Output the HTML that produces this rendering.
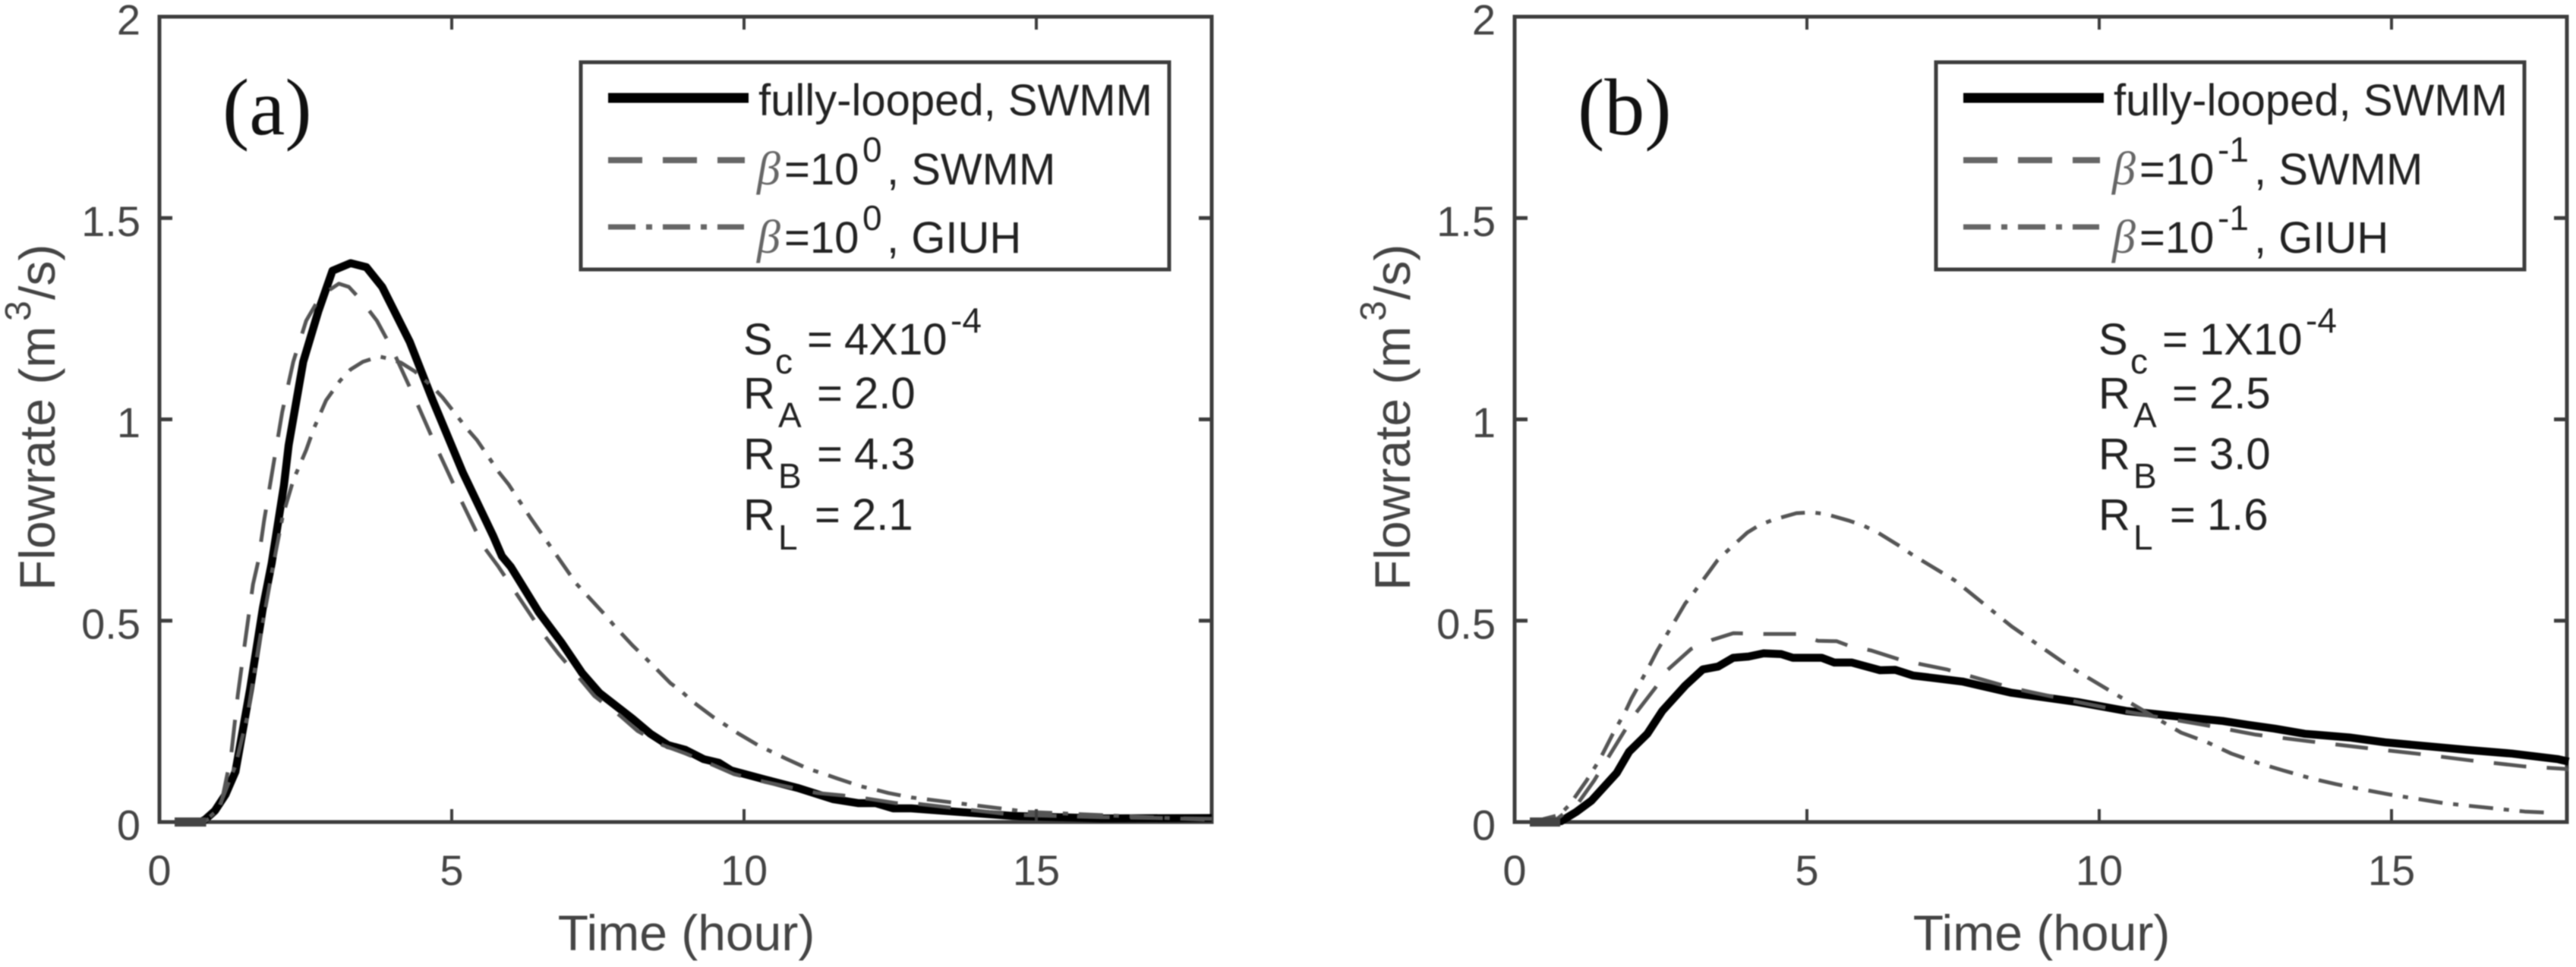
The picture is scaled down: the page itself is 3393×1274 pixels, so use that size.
<!DOCTYPE html>
<html lang="en">
<head>
<meta charset="utf-8">
<title>Flowrate hydrographs</title>
<style>
html,body{margin:0;padding:0;background:#fff;width:3393px;height:1274px;overflow:hidden}
svg{display:block;filter:blur(0.7px)}
text{font-family:"Liberation Sans",Arial,sans-serif}
.tick{font-size:56px;fill:#444}
.title{font-size:66px;fill:#444}
.leg{font-size:58px;fill:#222}
.sup{font-size:46px;fill:#222}
.ann{font-size:58px;fill:#222}
.sub{font-size:46px;fill:#222}
.beta{font-family:"Liberation Serif",serif;font-style:italic;font-size:62px;fill:#666}
.panel-label{font-family:"Liberation Serif",serif;font-size:106px;fill:#111}
</style>
</head>
<body>
<svg id="chart" xmlns="http://www.w3.org/2000/svg" width="3393" height="1274" viewBox="0 0 3393 1274">
<rect width="3393" height="1274" fill="#fff"/>
</svg>
<script>
// Tick values
const xTickValues = [0, 5, 10, 15];
const xTickLabels = ['0', '5', '10', '15'];
const yTickValues = [0, 0.5, 1, 1.5, 2];
const yTickLabels = ['0', '0.5', '1', '1.5', '2'];

// Panel (a) series
const aSolidTime = [0.3,0.7,0.78,0.95,1.13,1.3,1.385,1.55,1.77,1.92,2.13,2.21,2.46,2.72,2.96,3.27,3.54,3.81,4.28,4.67,5.19,5.71,5.86,6.01,6.49,6.88,7.23,7.53,8.09,8.4,8.7,9.0,9.31,9.57,9.78,10.35,10.91,11.52,11.95,12.25,12.55,12.86,14.6,16.1,18];
const aSolidFlow = [0,0,0.006,0.028,0.068,0.125,0.194,0.33,0.532,0.642,0.836,0.936,1.143,1.269,1.369,1.388,1.378,1.329,1.193,1.049,0.868,0.71,0.66,0.634,0.521,0.445,0.37,0.32,0.257,0.219,0.191,0.179,0.156,0.147,0.128,0.106,0.085,0.057,0.047,0.047,0.034,0.034,0.015,0.009,0.01];
const aDashTime = [0.3,0.75,1.0,1.08,1.17,1.23,1.34,1.41,1.6,1.69,1.79,1.95,2.1,2.29,2.51,2.76,3.07,3.24,3.46,3.72,3.98,4.37,4.74,5.13,5.54,5.8,6.58,6.84,7.18,7.44,7.88,8.18,8.61,9.0,9.48,9.83,10.35,11.25,11.69,12.16,12.6,12.86,14.6,16.1,18];
const aDashFlow = [0,0,0.02,0.062,0.125,0.17,0.315,0.39,0.59,0.647,0.748,0.887,1.018,1.143,1.245,1.307,1.337,1.329,1.294,1.245,1.175,1.052,0.93,0.808,0.685,0.634,0.464,0.415,0.358,0.313,0.264,0.226,0.191,0.17,0.141,0.119,0.1,0.072,0.066,0.057,0.047,0.047,0.018,0.012,0.008];
const aGiuhTime = [0.3,0.75,1.0,1.3,1.5,1.7,1.94,2.11,2.29,2.51,2.64,2.85,3.09,3.27,3.48,3.76,3.89,4.13,4.37,4.67,4.84,5.26,5.43,5.81,5.97,6.34,7.13,7.62,7.79,8.09,8.26,8.44,8.74,8.94,9.13,9.48,9.68,9.89,10.26,10.48,10.71,11.1,11.34,11.58,11.99,12.23,12.47,12.86,14.87,18];
const aGiuhFlow = [0,0,0.03,0.14,0.26,0.44,0.634,0.761,0.849,0.924,0.977,1.047,1.096,1.124,1.143,1.156,1.152,1.141,1.119,1.081,1.055,0.977,0.949,0.868,0.839,0.757,0.592,0.515,0.486,0.439,0.415,0.389,0.345,0.323,0.298,0.26,0.241,0.221,0.189,0.174,0.158,0.132,0.121,0.109,0.089,0.081,0.072,0.061,0.025,0.005];
const aBaseTime = [0.26, 0.8];
const aBaseFlow = [0, 0];

// Panel (b) series
const bSolidTime = [0.3,0.795,1.054,1.314,1.747,1.96,2.27,2.526,2.92,3.22,3.48,3.74,4.0,4.26,4.56,4.76,5.25,5.47,5.77,6.25,6.51,6.81,7.66,8.5,9.63,10.46,11.49,12.11,12.55,13.0,13.52,14.28,14.89,15.55,16.3,17.06,17.85,18.03];
const bSolidFlow = [0,0.002,0.025,0.053,0.122,0.175,0.219,0.276,0.339,0.379,0.386,0.408,0.411,0.419,0.417,0.408,0.408,0.396,0.396,0.377,0.378,0.364,0.349,0.321,0.298,0.276,0.26,0.251,0.241,0.232,0.219,0.21,0.198,0.189,0.179,0.17,0.156,0.15];
const bDashTime = [0.3,0.71,1.1,1.36,1.57,1.85,2.05,2.4,2.61,3.02,3.37,3.74,4.28,4.82,5.19,5.51,5.73,6.1,6.64,7.39,8.5,9.63,10.46,11.8,12.68,13.62,14.5,15.42,16.35,17.28,17.97,18.03];
const bDashFlow = [0,0.006,0.05,0.103,0.153,0.219,0.266,0.332,0.377,0.43,0.452,0.469,0.467,0.467,0.45,0.449,0.437,0.426,0.401,0.379,0.333,0.298,0.274,0.241,0.217,0.2,0.185,0.17,0.153,0.138,0.132,0.13];
const bGiuhTime = [0.3,0.77,0.94,1.23,1.46,1.68,1.9,2.0,2.11,2.33,2.44,2.56,2.79,2.92,3.07,3.33,3.47,3.65,3.98,4.17,4.41,4.82,5.08,5.32,5.73,5.97,6.2,6.58,6.79,7.53,8.5,9.49,10.46,11.4,11.85,12.26,12.71,13.15,13.61,14.05,14.5,14.98,15.42,15.89,16.35,16.81,17.28,17.74];
const bGiuhFlow = [0,0.018,0.043,0.103,0.156,0.219,0.276,0.307,0.336,0.395,0.426,0.455,0.511,0.543,0.571,0.622,0.65,0.675,0.719,0.736,0.75,0.767,0.769,0.765,0.748,0.736,0.72,0.686,0.665,0.6,0.486,0.386,0.302,0.222,0.198,0.17,0.147,0.128,0.109,0.094,0.081,0.068,0.058,0.047,0.04,0.033,0.026,0.023];
const bBaseTime = [0.26, 0.78];
const bBaseFlow = [0, 0];

// Printed annotation values
const aSlope = '4X10'; const aRatioA = '2.0'; const aRatioB = '4.3'; const aRatioL = '2.1';
const bSlope = '1X10'; const bRatioA = '2.5'; const bRatioB = '3.0'; const bRatioL = '1.6';

const NS = 'http://www.w3.org/2000/svg';
const root = document.getElementById('chart');

function mk(tag, attrs, parent, txt) {
  const el = document.createElementNS(NS, tag);
  for (const k in attrs) el.setAttribute(k, attrs[k]);
  if (txt !== undefined) el.textContent = txt;
  parent.appendChild(el);
  return el;
}

function drawPanel(p) {
  const L = p.dx + 210, R = p.dx + 1596, T = 22, B = 1083;
  const xScale = v => L + (v / 18) * (R - L);
  const yScale = v => B - (v / 2) * (B - T);
  const X = v => p.dx + v;

  const g = mk('g', {}, root);
  
  

  const clipId = 'clip-' + p.id;
  const defs = mk('defs', {}, g);
  const clip = mk('clipPath', { id: clipId }, defs);
  mk('rect', { x: L, y: T - 10, width: R - L + 4, height: B - T + 20 }, clip);

  function series(ts, qs, name, attrs) {
    const pts = ts.map((t, i) => xScale(t).toFixed(1) + ',' + yScale(qs[i]).toFixed(1)).join(' ');
    const line = mk('polyline', Object.assign({ points: pts, fill: 'none', 'clip-path': 'url(#' + clipId + ')', 'stroke-linejoin': 'round' }, attrs), g);
    
    
  }

  // frame first so curves overlay it
  const frame = mk('rect', { x: L, y: T, width: R - L, height: B - T, fill: 'none', stroke: '#3d3d3d', 'stroke-width': 5 }, g);
  
  

  series(p.solidT, p.solidQ, 'series-fully-looped-swmm', { stroke: '#000', 'stroke-width': 10.5 });
  series(p.giuhT, p.giuhQ, 'series-beta-giuh', { stroke: '#555', 'stroke-width': 5, 'stroke-dasharray': '32 14 7 14' });
  series(p.dashT, p.dashQ, 'series-beta-swmm', { stroke: '#555', 'stroke-width': 5, 'stroke-dasharray': '43 27' });
  series(p.baseT, p.baseQ, 'series-zero-flow-start', { stroke: '#444', 'stroke-width': 12 });

  // x ticks
  xTickValues.forEach((v, i) => {
    if (v > 0) {
      const t1 = mk('line', { x1: xScale(v), x2: xScale(v), y1: B, y2: B - 17, stroke: '#3d3d3d', 'stroke-width': 4 }, g);
      
      
      const t2 = mk('line', { x1: xScale(v), x2: xScale(v), y1: T, y2: T + 17, stroke: '#3d3d3d', 'stroke-width': 4 }, g);
      
      
    }
    const lab = mk('text', { x: xScale(v), y: 1166, 'text-anchor': 'middle', class: 'tick' }, g, xTickLabels[i]);
    
    
  });

  // y ticks
  yTickValues.forEach((v, i) => {
    if (v > 0 && v < 2) {
      const t1 = mk('line', { x1: L, x2: L + 17, y1: yScale(v), y2: yScale(v), stroke: '#3d3d3d', 'stroke-width': 5 }, g);
      
      
      const t2 = mk('line', { x1: R, x2: R - 17, y1: yScale(v), y2: yScale(v), stroke: '#3d3d3d', 'stroke-width': 5 }, g);
      
      
    }
    const lab = mk('text', { x: L - 25, y: yScale(v) + 23.5, 'text-anchor': 'end', class: 'tick' }, g, yTickLabels[i]);
    
    
  });

  // axis titles
  const xt = mk('text', { x: X(904), y: 1252, 'text-anchor': 'middle', class: 'title' }, g, 'Time (hour)');
  
  

  const yt = mk('text', { transform: 'translate(' + X(72) + ',778) rotate(-90)', class: 'title' }, g);
  
  
  mk('tspan', { x: 0, y: 0 }, yt, 'Flowrate (m');
  mk('tspan', { x: 355, y: -32, style: 'font-size:48px' }, yt, '3');
  mk('tspan', { x: 383, y: 0 }, yt, '/s)');

  // panel label
  const pl = mk('text', { x: X(293), y: 177, class: 'panel-label' }, g, '(' + p.id + ')');
  
  

  // legend
  const lg = mk('g', {}, g);
  
  
  mk('rect', { x: X(765), y: 82, width: 775, height: 273, fill: '#fff', stroke: '#3d3d3d', 'stroke-width': 5 }, lg);

  const s1 = mk('line', { x1: X(801), x2: X(986), y1: 129, y2: 129, stroke: '#000', 'stroke-width': 13 }, lg);
  
  
  const s2 = mk('line', { x1: X(801), x2: X(981), y1: 211, y2: 211, stroke: '#666', 'stroke-width': 8, 'stroke-dasharray': '45 27' }, lg);
  
  
  const s3 = mk('line', { x1: X(801), x2: X(980), y1: 299, y2: 299, stroke: '#666', 'stroke-width': 7, 'stroke-dasharray': '36 14 8 14' }, lg);
  
  

  const e1 = mk('text', { x: X(999), y: 152, class: 'leg' }, lg, 'fully-looped, SWMM');
  
  

  function betaRow(base, word, name) {
    const row = mk('text', { class: 'leg' }, lg);
    
    
    mk('tspan', { x: X(997), y: base, class: 'beta' }, row, 'β');
    mk('tspan', { x: X(1033), y: base }, row, '=10');
    mk('tspan', { x: X(1136), y: base - 30, class: 'sup' }, row, p.exp);
    mk('tspan', { x: X(p.commaX), y: base }, row, ', ' + word);
  }
  betaRow(243, 'SWMM', 'legend-entry-beta-swmm');
  betaRow(333, 'GIUH', 'legend-entry-beta-giuh');

  // annotation block
  const an = mk('g', {}, g);
  
  
  function annRow(base, letter, sub, subX, subDrop, eqX, valX, value, name) {
    const row = mk('text', { class: 'ann' }, an);
    
    
    mk('tspan', { x: X(979), y: base }, row, letter);
    mk('tspan', { x: X(subX), y: base + subDrop, class: 'sub' }, row, sub);
    mk('tspan', { x: X(eqX), y: base }, row, '=');
    mk('tspan', { x: X(valX), y: base }, row, value);
    return row;
  }
  const r0 = annRow(467, 'S', 'c', 1021, 25, 1063, 1112, p.slope, 'slope-annotation');
  mk('tspan', { x: X(1252), y: 438, class: 'sup' }, r0, '-4');
  annRow(538, 'R', 'A', 1025, 25, 1076, 1125, p.ra, 'area-ratio-annotation');
  annRow(618, 'R', 'B', 1025, 25, 1076, 1125, p.rb, 'bifurcation-ratio-annotation');
  annRow(698, 'R', 'L', 1025, 26, 1073, 1122, p.rl, 'length-ratio-annotation');
}

drawPanel({ id: 'a', dx: 0, exp: '0', commaX: 1168, slope: aSlope, ra: aRatioA, rb: aRatioB, rl: aRatioL,
  solidT: aSolidTime, solidQ: aSolidFlow, dashT: aDashTime, dashQ: aDashFlow, giuhT: aGiuhTime, giuhQ: aGiuhFlow, baseT: aBaseTime, baseQ: aBaseFlow });
drawPanel({ id: 'b', dx: 1785, exp: '-1', commaX: 1184, slope: bSlope, ra: bRatioA, rb: bRatioB, rl: bRatioL,
  solidT: bSolidTime, solidQ: bSolidFlow, dashT: bDashTime, dashQ: bDashFlow, giuhT: bGiuhTime, giuhQ: bGiuhFlow, baseT: bBaseTime, baseQ: bBaseFlow });
</script>
</body>
</html>
